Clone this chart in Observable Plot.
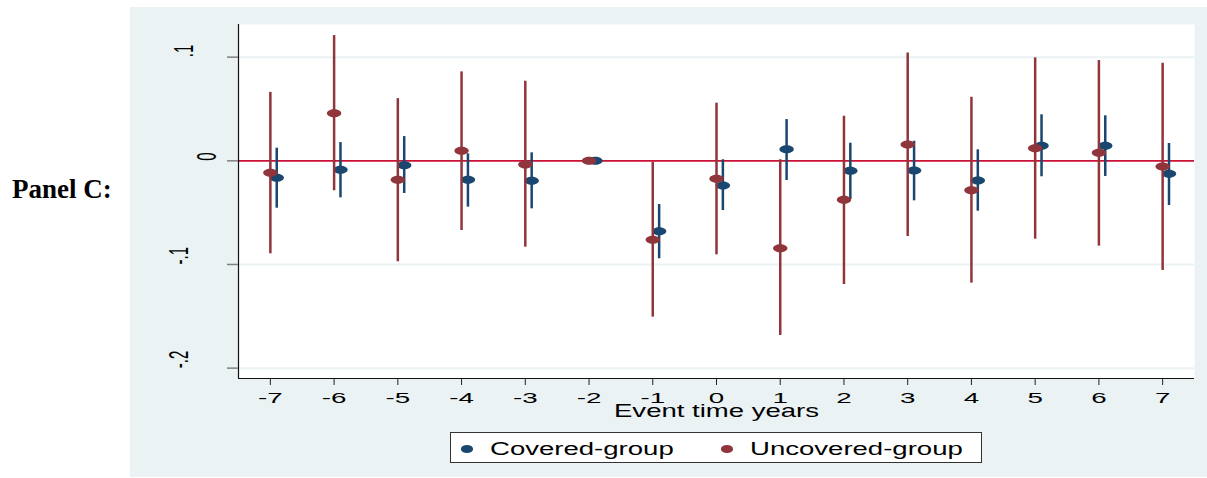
<!DOCTYPE html>
<html>
<head>
<meta charset="utf-8">
<script src="https://cdn.jsdelivr.net/npm/d3@7"></script>
<script src="https://cdn.jsdelivr.net/npm/@observablehq/plot@0.6"></script>
<style>
  html, body { margin: 0; padding: 0; background: #ffffff; }
  #page { position: relative; width: 1207px; height: 478px; overflow: hidden; }
  #panel { position: absolute; left: 12px; top: 176px; font: bold 27px "Liberation Serif", "Times New Roman", serif; line-height: 27px; color: #000; white-space: nowrap; }
  #box { position: absolute; left: 130px; top: 7px; width: 1077px; height: 470px; background: #eaf2f3; }
  #box svg { position: absolute; left: 0; top: 0; }
  #legend { position: absolute; left: 320px; top: 425px; width: 532px; height: 31px; box-sizing: border-box; border: 1px solid #333; background: #fff; }
  .lg-dot { position: absolute; top: 12px; width: 12.5px; height: 8px; border-radius: 50%; }
  .lg-txt { position: absolute; top: 6.8px; font: 18px "Liberation Sans", Arial, sans-serif; line-height: 18px; white-space: nowrap; transform: scaleX(1.53); transform-origin: left center; color: #000; }
</style>
</head>
<body>
<div id="page">
  <div id="panel">Panel C:</div>
  <div id="box"></div>
</div>
<script>
// ---- data ----
const years = [-7, -6, -5, -4, -3, -2, -1, 0, 1, 2, 3, 4, 5, 6, 7];
const covered   = [-0.0164, -0.0087, -0.0042, -0.0183, -0.0193, 0, -0.0679, -0.0238, 0.0112, -0.0097, -0.0094, -0.0190, 0.0145, 0.0145, -0.0125];
const coveredLo = [-0.0457, -0.0357, -0.0315, -0.0447, -0.0463, null, -0.0945, -0.0480, -0.0190, -0.0373, -0.0386, -0.0486, -0.0154, -0.0151, -0.0431];
const coveredHi = [0.0122, 0.0176, 0.0234, 0.0067, 0.0077, null, -0.0421, 0.0010, 0.0398, 0.0170, 0.0189, 0.0106, 0.0444, 0.0434, 0.0167];
const uncovered   = [-0.0116, 0.0459, -0.0183, 0.0096, -0.0036, 0, -0.0762, -0.0174, -0.0843, -0.0376, 0.0157, -0.0283, 0.0122, 0.0077, -0.0055];
const uncoveredLo = [-0.0897, -0.0289, -0.0974, -0.0672, -0.0833, null, -0.1508, -0.0907, -0.1685, -0.1193, -0.0730, -0.1180, -0.0756, -0.0823, -0.1058];
const uncoveredHi = [0.0660, 0.1208, 0.0600, 0.0858, 0.0768, null, -0.0013, 0.0556, 0.0010, 0.0430, 0.1040, 0.0613, 0.0993, 0.0967, 0.0941];
const seriesNames = ["Covered-group", "Uncovered-group"];
const seriesColors = ["#1a476f", "#90353b"];
const yTicks = [0.1, 0, -0.1, -0.2];
const yTickLabels = [".1", "0", "-.1", "-.2"];
const xLabel = "Event time years";
const xDomain = [-7.5, 7.5];
const yDomain = [-0.21, 0.1315];
const coveredShift = 0.1;

// ---- build ----
const data = years.map((t, i) => ({
  year: t,
  cov: covered[i], covLo: coveredLo[i], covHi: coveredHi[i],
  unc: uncovered[i], uncLo: uncoveredLo[i], uncHi: uncoveredHi[i]
}));
const withCI = data.filter(d => d.covLo != null);
const yLab = yTicks.map((v, i) => ({v, label: yTickLabels[i]}));

const ellipse = {
  draw(ctx, size) {
    const r = Math.sqrt(size / Math.PI);
    const rx = r * 1.8, ry = r, k = 0.5523;
    ctx.moveTo(rx, 0);
    ctx.bezierCurveTo(rx, ry * k, rx * k, ry, 0, ry);
    ctx.bezierCurveTo(-rx * k, ry, -rx, ry * k, -rx, 0);
    ctx.bezierCurveTo(-rx, -ry * k, -rx * k, -ry, 0, -ry);
    ctx.bezierCurveTo(rx * k, -ry, rx, -ry * k, rx, 0);
    ctx.closePath();
  }
};

const ylabOpts = {y: "v", text: "label", frameAnchor: "left", rotate: -90, fontSize: 15, fill: "#000"};

const chart = Plot.plot({
  width: 1077,
  height: 418,
  marginLeft: 108,
  marginRight: 13,
  marginTop: 17,
  marginBottom: 47,
  x: {domain: xDomain},
  y: {domain: yDomain},
  style: {background: "transparent", fontFamily: "'Liberation Sans', Arial, sans-serif", overflow: "visible"},
  marks: [
    Plot.frame({fill: "white", stroke: "none"}),
    Plot.ruleY(yTicks.filter(v => v !== 0), {stroke: "#eaf2f3", strokeWidth: 2}),
    Plot.ruleY([0], {stroke: "#cc1036", strokeWidth: 1.8}),
    Plot.ruleX([xDomain[0]], {stroke: "#111", strokeWidth: 1.2}),
    Plot.ruleY([yDomain[0]], {stroke: "#111", strokeWidth: 1.2}),
    Plot.axisX({ticks: years, tickSize: 7, tickPadding: 7, tickFormat: d => String(d), fontSize: 15, stroke: "#222", label: null}),
    Plot.axisY({ticks: yTicks, tickSize: 11, tickFormat: () => "", stroke: "#808080", strokeWidth: 1.5, label: null}),
    Plot.text(yLab.filter(d => d.v > 0), {...ylabOpts, dx: -54}),
    Plot.text(yLab.filter(d => d.v === 0), {...ylabOpts, dx: -31}),
    Plot.text(yLab.filter(d => d.v < 0), {...ylabOpts, dx: -59}),
    Plot.text([xLabel], {text: d => d, frameAnchor: "bottom", dy: 38, fontSize: 18, fill: "#000"}),
    Plot.ruleX(withCI, {x: d => d.year + coveredShift, y1: "covLo", y2: "covHi", stroke: seriesColors[0], strokeWidth: 2.5}),
    Plot.dot(data, {x: d => d.year + coveredShift, y: "cov", r: 4, symbol: ellipse, fill: seriesColors[0], stroke: "none"}),
    Plot.ruleX(withCI, {x: "year", y1: "uncLo", y2: "uncHi", stroke: seriesColors[1], strokeWidth: 2.5}),
    Plot.dot(data, {x: "year", y: "unc", r: 4, symbol: ellipse, fill: seriesColors[1], stroke: "none"})
  ]
});

// horizontally stretched text, like the reference
function stretch(root, selector, s) {
  root.querySelectorAll(selector).forEach(t => {
    let tr = t.getAttribute("transform");
    if (tr) {
      if (tr.includes("rotate")) tr = tr.replace("rotate", `scale(${s},1) rotate`);
      else tr = tr + ` scale(${s},1)`;
      t.setAttribute("transform", tr);
    } else {
      const x = parseFloat(t.getAttribute("x")) || 0;
      t.setAttribute("transform", `translate(${x},0) scale(${s},1) translate(${-x},0)`);
    }
  });
}
stretch(chart, 'g[font-size="15"] text', 1.85);
stretch(chart, 'g[font-size="18"] text', 1.53);

const box = document.getElementById("box");
box.appendChild(chart);

// legend
const legend = document.createElement("div");
legend.id = "legend";
const dotLefts = [9.75, 269.75], txtLefts = [39, 299];
seriesNames.forEach((name, i) => {
  const dot = document.createElement("span");
  dot.className = "lg-dot";
  dot.style.left = dotLefts[i] + "px";
  dot.style.background = seriesColors[i];
  const txt = document.createElement("span");
  txt.className = "lg-txt";
  txt.style.left = txtLefts[i] + "px";
  txt.textContent = name;
  legend.appendChild(dot);
  legend.appendChild(txt);
});
box.appendChild(legend);
</script>
</body>
</html>
